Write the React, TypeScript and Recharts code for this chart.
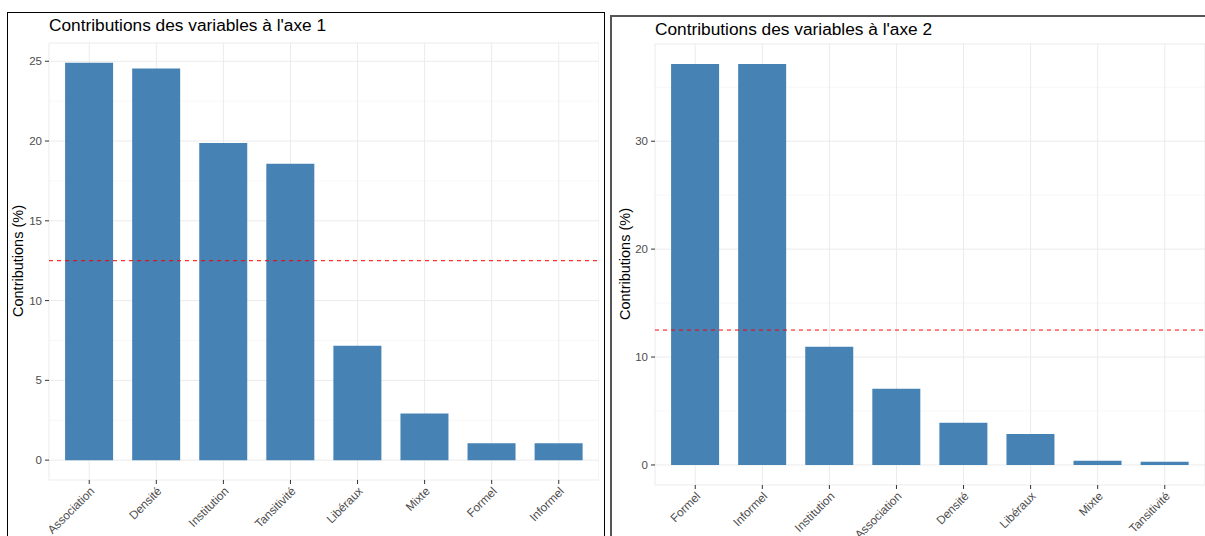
import React from 'react';
import { BarChart, Bar, XAxis, YAxis, CartesianGrid, ReferenceLine } from 'recharts';

// axe 1
const axe1Vars = ['Association', 'Densité', 'Institution', 'Tansitivité', 'Libéraux', 'Mixte', 'Formel', 'Informel'];
const axe1Contrib = [24.9, 24.55, 19.87, 18.58, 7.17, 2.93, 1.06, 1.06];
const axe1Ticks = [0, 5, 10, 15, 20, 25];
const axe1Minor = [2.5, 7.5, 12.5, 17.5, 22.5];

// axe 2
const axe2Vars = ['Formel', 'Informel', 'Institution', 'Association', 'Densité', 'Libéraux', 'Mixte', 'Tansitivité'];
const axe2Contrib = [37.15, 37.15, 10.95, 7.05, 3.9, 2.87, 0.4, 0.3];
const axe2Ticks = [0, 10, 20, 30];
const axe2Minor = [5, 15, 25, 35];

const expected = 100 / 8;

const BAR = '#4682B4';
const GRID = '#ebebeb';
const GRID_MINOR = '#f3f3f3';
const TXT = '#4d4d4d';
const FONT = '"Liberation Sans", Arial, sans-serif';

const RotTick: React.FC<any> = ({ x, y, payload }) => (
  <text
    x={x}
    y={y}
    dy="0.71em"
    textAnchor="end"
    fill={TXT}
    fontSize={11.8}
    fontFamily={FONT}
    transform={`rotate(-45, ${x}, ${y})`}
  >
    {payload.value}
  </text>
);

interface PanelProps {
  vars: string[];
  values: number[];
  ticks: number[];
  minor: number[];
  left: number;
  width: number;
  top: number;
  bottom: number;
}

const ContribChart: React.FC<PanelProps> = ({ vars, values, ticks, minor, left, width, top, bottom }) => {
  const data = vars.map((v, i) => ({ name: v, contrib: values[i] }));
  const max = Math.max(...values);
  const plotW = width - 49;
  const pad = (plotW / 8.2) * 0.1;
  return (
    <div style={{ position: 'absolute', left, top: 0 }}>
      <BarChart
        width={width}
        height={536}
        data={data}
        margin={{ top, right: 0, bottom: 0, left: 0 }}
        barCategoryGap="14%"
      >
        <CartesianGrid horizontal={true} vertical={false} horizontalValues={minor} stroke={GRID_MINOR} strokeWidth={0.7} />
        <CartesianGrid horizontal={true} vertical={true} stroke={GRID} strokeWidth={1} />
        <XAxis
          dataKey="name"
          height={536 - bottom}
          padding={{ left: pad, right: pad }}
          axisLine={false}
          tickLine={{ stroke: '#333333' }}
          tickSize={4}
          tickMargin={2}
          interval={0}
          tick={<RotTick />}
        />
        <YAxis
          width={49}
          type="number"
          domain={[-0.05 * max, 1.05 * max]}
          allowDataOverflow
          ticks={ticks}
          axisLine={false}
          tickLine={{ stroke: '#333333' }}
          tickSize={4}
          tickMargin={3}
          tick={{ fill: TXT, fontSize: 11.5, fontFamily: FONT }}
        />
        <Bar dataKey="contrib" fill={BAR} isAnimationActive={false} />
        <ReferenceLine y={expected} stroke="#ff0000" strokeDasharray="4 4" strokeWidth={1} />
      </BarChart>
    </div>
  );
};

export default function App() {
  return (
    <div style={{ position: 'absolute', left: 0, top: 0, width: 1205, height: 536, overflow: 'hidden', background: '#fff', fontFamily: FONT }}>
      <div style={{ position: 'absolute', left: 7, top: 12, width: 596, height: 600, border: '1px solid #000' }} />
      <div style={{ position: 'absolute', left: 610, top: 15, width: 700, height: 600, border: '2px solid #555' }} />
      <ContribChart vars={axe1Vars} values={axe1Contrib} ticks={axe1Ticks} minor={axe1Minor} left={0} width={599} top={43} bottom={480} />
      <ContribChart vars={axe2Vars} values={axe2Contrib} ticks={axe2Ticks} minor={axe2Minor} left={606} width={599} top={44} bottom={485} />
      <svg style={{ position: 'absolute', left: 0, top: 0 }} width={1205} height={536}>
        <text x={49} y={31} fontSize={17.3} fontFamily={FONT} fill="#000">Contributions des variables à l'axe 1</text>
        <text x={655} y={35} fontSize={17.3} fontFamily={FONT} fill="#000">Contributions des variables à l'axe 2</text>
        <text x={0} y={0} transform="translate(23, 261) rotate(-90)" textAnchor="middle" fontSize={14.5} fontFamily={FONT} fill="#000">Contributions (%)</text>
        <text x={0} y={0} transform="translate(630, 264) rotate(-90)" textAnchor="middle" fontSize={14.5} fontFamily={FONT} fill="#000">Contributions (%)</text>
      </svg>
    </div>
  );
}
